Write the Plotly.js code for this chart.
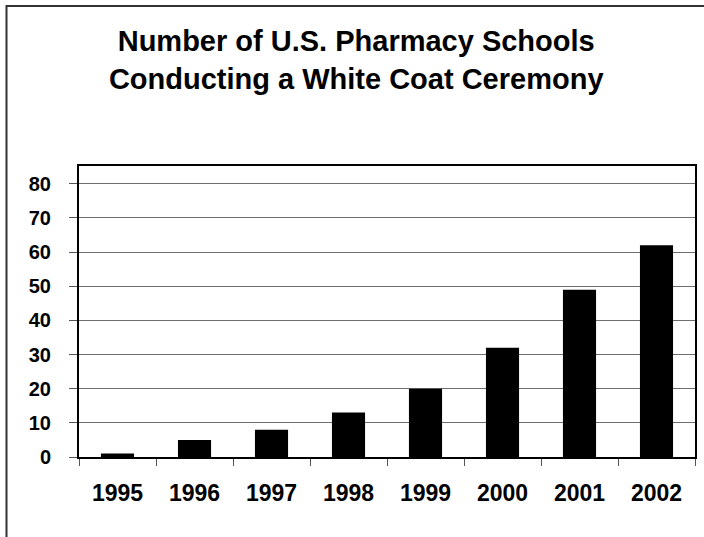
<!DOCTYPE html>
<html>
<head>
<meta charset="utf-8">
<script src="https://cdn.plot.ly/plotly-3.0.1.min.js"></script>
<style>
html,body{margin:0;padding:0;background:#fff;}
#chart{width:704px;height:537px;}
</style>
</head>
<body>
<div id="chart"></div>
<script>
const years = ["1995","1996","1997","1998","1999","2000","2001","2002"];
const schools = [1, 5, 8, 13, 20, 32, 49, 62];
const yTicks = [0, 10, 20, 30, 40, 50, 60, 70, 80];
const titleText = "Number of U.S. Pharmacy Schools<br>Conducting a White Coat Ceremony";

const FONT = "Liberation Sans, Arial, sans-serif";

const trace = {
  type: "bar",
  x: years,
  y: schools,
  marker: {color: "#000000", line: {width: 0}},
  hoverinfo: "x+y"
};

const L = 79, R = 9, T = 166, B = 80, W = 704, H = 537;
const pw = W - L - R, ph = H - T - B;

const layout = {
  width: W, height: H,
  margin: {l: L, r: R, t: T, b: B, pad: 0},
  paper_bgcolor: "#ffffff",
  plot_bgcolor: "#ffffff",
  bargap: 0.57,
  showlegend: false,
  title: {
    text: titleText,
    font: {family: FONT, size: 29, color: "#000", weight: "bold"},
    xref: "paper", x: 0.45, xanchor: "center",
    yref: "container", y: 0.905, yanchor: "top"
  },
  xaxis: {
    type: "category",
    tickson: "boundaries",
    ticks: "outside", ticklen: 7, tickwidth: 1, tickcolor: "#555",
    showline: true, linecolor: "#000", linewidth: 2, mirror: true,
    showgrid: false,
    tickfont: {family: FONT, size: 23, color: "#000", weight: "bold"},
    ticklabelstandoff: 14,
    fixedrange: true
  },
  yaxis: {
    range: [0, 85.2],
    tickmode: "array", tickvals: yTicks, ticktext: yTicks.map(String),
    ticks: "outside", ticklen: 8, tickwidth: 1, tickcolor: "#555",
    showline: true, linecolor: "#000", linewidth: 2, mirror: true,
    showgrid: true, gridcolor: "#6e6e6e", gridwidth: 1,
    zeroline: false,
    tickfont: {family: FONT, size: 20, color: "#000", weight: "bold"},
    ticklabelstandoff: 14,
    fixedrange: true
  },
  shapes: [{
    type: "rect", xref: "paper", yref: "paper",
    x0: (6.5 - L) / pw, x1: (712 - L) / pw,
    y0: (H - B - 545) / ph, y1: (H - B - 6) / ph,
    line: {color: "#333", width: 2}, fillcolor: "rgba(0,0,0,0)", layer: "below"
  }]
};

Plotly.newPlot("chart", [trace], layout, {displayModeBar: false, staticPlot: true});
</script>
</body>
</html>
